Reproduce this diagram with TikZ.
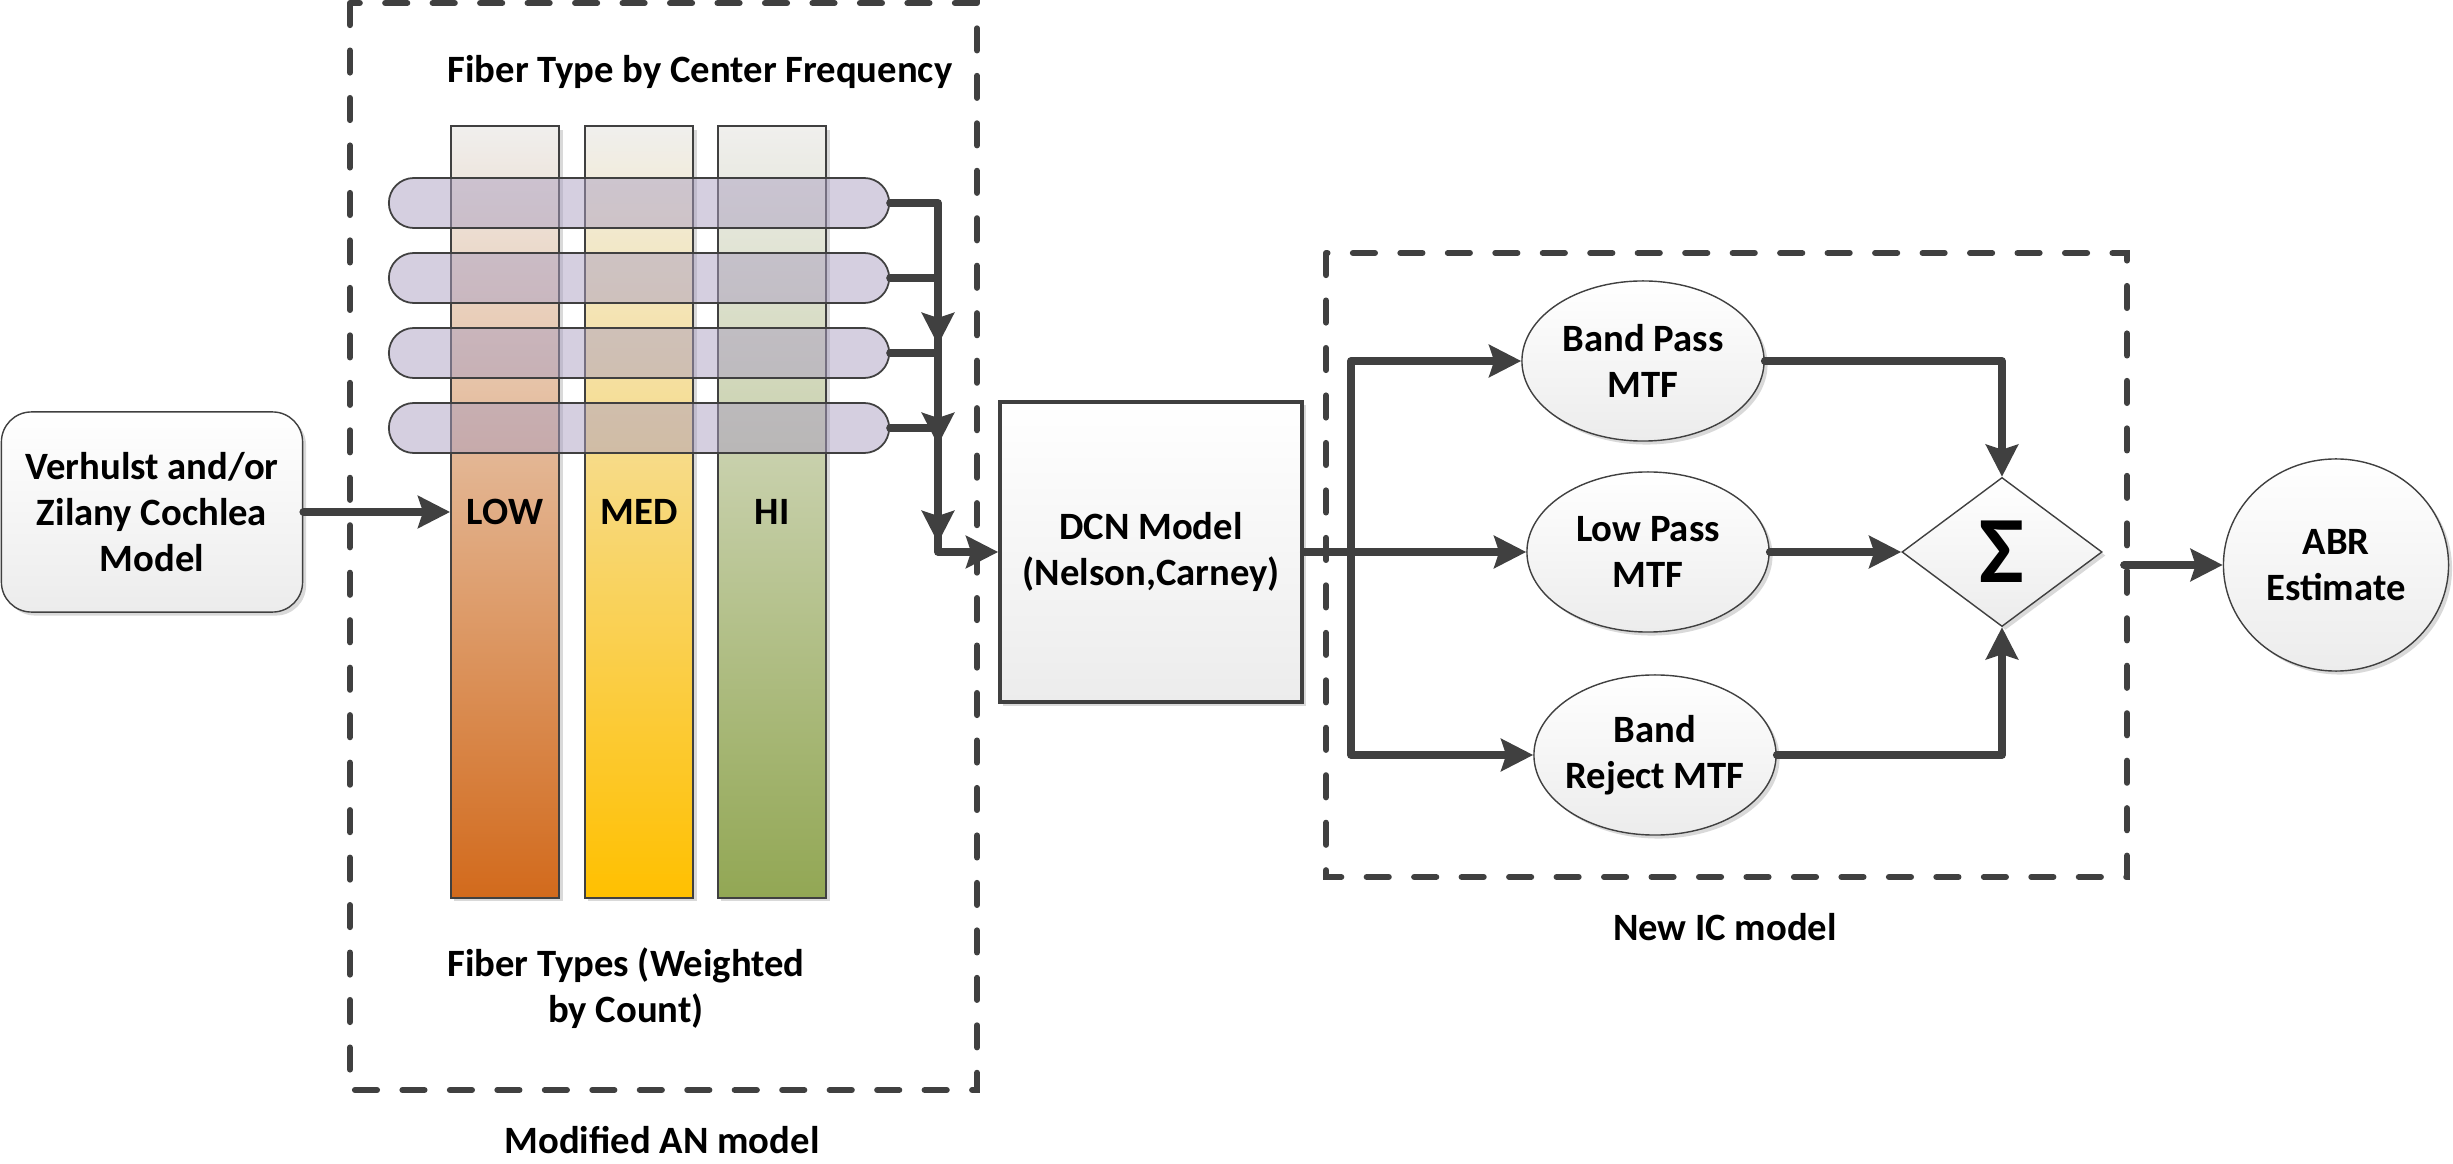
\documentclass[tikz,border=0pt]{standalone}
\usepackage{fontspec}
\setmainfont{Carlito}
\usetikzlibrary{arrows.meta,shapes.geometric,shadows}
\definecolor{lineGray}{RGB}{64,64,64}
\definecolor{boxBottom}{RGB}{236,236,236}
\definecolor{colTop}{RGB}{240,239,237}
\definecolor{lowOrange}{RGB}{210,106,28}
\definecolor{medGold}{RGB}{255,192,0}
\definecolor{hiGreen}{RGB}{146,167,84}
\definecolor{pillPurple}{RGB}{171,159,193}

\tikzset{
  txt/.style={font=\bfseries\fontsize{11}{13.2}\selectfont, align=center},
  softshadow/.style={drop shadow={shadow xshift=0.035cm, shadow yshift=-0.035cm, fill=black, opacity=0.15}},
  block/.style={txt, draw=lineGray, line width=0.4pt, top color=white, bottom color=boxBottom, softshadow},
  fibercol/.style={txt, draw=lineGray, line width=0.5pt, minimum width=1.08cm, minimum height=7.71cm, top color=colTop, softshadow},
  pill/.style={draw=lineGray, line width=0.5pt, fill=pillPurple, fill opacity=0.5, rounded corners=0.25cm, minimum width=5cm, minimum height=0.5cm},
  mtf/.style={block, ellipse, inner xsep=-0.15cm, inner ysep=0pt, minimum width=2.42cm, minimum height=1.6cm},
  groupbox/.style={draw=lineGray, line width=1.7pt, dash pattern=on 6.3pt off 7.2pt, line cap=round},
  wire/.style={draw=lineGray, line width=2.2pt, line cap=round, line join=round},
  flow/.style={wire, -{Stealth[length=0.32cm, width=0.32cm, inset=0.05cm]}}
}

\begin{document}
\begin{tikzpicture}[x=0.01cm, y=-0.01cm]
\useasboundingbox (0,0) rectangle (2453,1164);

\draw[groupbox] (350,3) rectangle (977,1090);
\draw[groupbox] (1326,253) rectangle (2127,877);

\node[txt] (antitle) at (700,72) {Fiber Type by Center Frequency};
\node[fibercol, bottom color=lowOrange] (low) at (505,512) {LOW};
\node[fibercol, bottom color=medGold] (med) at (639,512) {MED};
\node[fibercol, bottom color=hiGreen] (hi) at (772,512) {HI};
\node[pill] (p1) at (639,203) {};
\node[pill] (p2) at (639,278) {};
\node[pill] (p3) at (639,353) {};
\node[pill] (p4) at (639,428) {};
\node[txt] (weighted) at (626,988) {Fiber Types (Weighted\\by Count)};
\node[txt] (anlabel) at (662,1140) {Modified AN model};

\node[block, rounded corners=0.3cm, minimum width=3.01cm, minimum height=2cm] (cochlea) at (152,512) {Verhulst and/or\\Zilany Cochlea\\Model};
\node[block, line width=1pt, minimum width=3.02cm, minimum height=3cm] (dcn) at (1151,552) {DCN Model\\(Nelson,Carney)};

\node[mtf] (bandpass) at (1643,361) {Band Pass\\MTF};
\node[mtf] (lowpass) at (1648,552) {Low Pass\\MTF};
\node[mtf] (bandrej) at (1655,755) {Band\\Reject MTF};
\node[block, diamond, inner sep=0pt, minimum width=2cm, minimum height=1.49cm] (sum) at (2002,552) {\fontsize{27}{29}\selectfont Σ};
\node[block, ellipse, inner sep=0pt, minimum width=2.25cm, minimum height=2.12cm] (abr) at (2336,565) {ABR\\Estimate};
\node[txt] (iclabel) at (1725,927) {New IC model};

\coordinate (b1) at (938,203);
\coordinate (b2) at (938,278);
\coordinate (b3) at (938,353);
\coordinate (b4) at (938,428);
\coordinate (t1) at (938,345);
\coordinate (t2) at (938,445);
\coordinate (t3) at (938,543);
\draw[wire] (p1.east) -- (b1) -- (b4);
\draw[wire] (p2.east) -- (b2);
\draw[wire] (p3.east) -- (b3);
\draw[wire] (p4.east) -- (b4);
\draw[flow] (b2) -- (t1);
\draw[flow] (b3) -- (t2);
\draw[flow] (b4) -- (t3);
\draw[flow] (b4) |- (dcn.west);
\draw[flow] (cochlea.east) -- (low.west);

\coordinate (icbus) at (1351,552);
\draw[flow] (dcn.east) -- (lowpass.west);
\draw[flow] (icbus) |- (bandpass.west);
\draw[flow] (icbus) |- (bandrej.west);
\draw[flow] (bandpass.east) -| (sum.north);
\draw[flow] (lowpass.east) -- (sum.west);
\draw[flow] (bandrej.east) -| (sum.south);
\coordinate (sumout) at (2124,565);
\draw[flow] (sumout) -- (abr.west);
\end{tikzpicture}
\end{document}
